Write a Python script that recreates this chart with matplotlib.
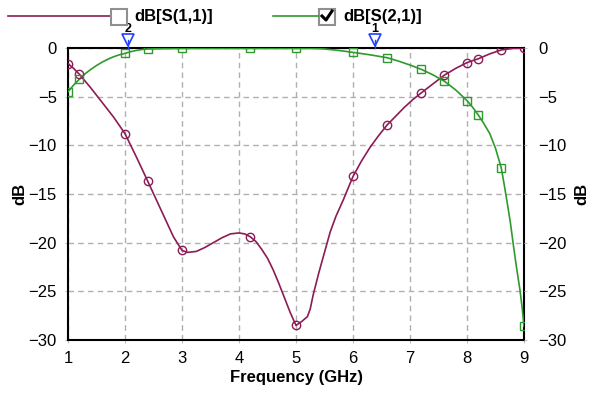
import matplotlib
matplotlib.use("Agg")
import matplotlib.pyplot as plt
from matplotlib.lines import Line2D
from matplotlib.patches import Rectangle

plt.rcParams['font.family'] = ['Liberation Sans', 'DejaVu Sans']

# marker positions (GHz)
freq_markers = [1.0, 1.2, 2.0, 2.4, 3.0, 4.2, 5.0, 6.0, 6.6, 7.2, 7.6, 8.0, 8.2, 8.6, 9.0]
s11_markers = [-1.6, -2.7, -8.8, -13.7, -20.8, -19.4, -28.5, -13.2, -7.9, -4.6, -2.8, -1.5, -1.1, -0.2, 0.0]
s21_markers = [-4.5, -3.2, -0.55, -0.1, -0.05, -0.05, -0.05, -0.45, -1.0, -2.2, -3.4, -5.4, -6.9, -12.3, -28.6]

# traced curves
s11_curve_x = [1.0, 1.1, 1.2, 1.4, 1.6, 1.8, 2.0, 2.2, 2.4, 2.55, 2.7, 2.85, 3.0, 3.1, 3.25, 3.4,
               3.55, 3.7, 3.85, 4.0, 4.1, 4.2, 4.3, 4.4, 4.5, 4.6, 4.7, 4.8, 4.9, 5.0, 5.1, 5.2,
               5.25, 5.3, 5.4, 5.5, 5.6, 5.7, 5.83, 6.0, 6.15, 6.3, 6.45, 6.6, 6.75, 6.9, 7.05,
               7.2, 7.4, 7.6, 7.8, 8.0, 8.2, 8.4, 8.6, 8.8, 9.0]
s11_curve_y = [-1.6, -2.1, -2.7, -4.1, -5.6, -7.1, -8.8, -11.2, -13.7, -15.6, -17.5, -19.4, -20.8,
               -21.0, -20.9, -20.5, -20.0, -19.5, -19.1, -19.0, -19.1, -19.4, -19.9, -20.7, -21.6,
               -22.8, -24.2, -25.7, -27.2, -28.5, -28.1, -27.6, -26.8, -25.4, -23.1, -21.0, -18.9,
               -17.3, -15.6, -13.2, -11.6, -10.2, -9.0, -7.9, -7.0, -6.1, -5.3, -4.6, -3.7, -2.8,
               -2.1, -1.5, -1.1, -0.6, -0.2, -0.05, 0.0]
s21_curve_x = [1.0, 1.1, 1.2, 1.3, 1.4, 1.5, 1.6, 1.7, 1.8, 1.9, 2.0, 2.1, 2.2, 2.3, 2.4, 3.0, 4.2,
               5.0, 5.3, 5.5, 5.75, 6.0, 6.3, 6.6, 6.8, 7.0, 7.2, 7.4, 7.6, 7.8, 8.0, 8.1, 8.2,
               8.3, 8.4, 8.5, 8.6, 8.64, 8.7, 8.76, 8.81, 8.87, 8.93, 8.97, 9.0]
s21_curve_y = [-4.5, -3.8, -3.2, -2.65, -2.2, -1.8, -1.45, -1.15, -0.9, -0.7, -0.55, -0.38, -0.25,
               -0.15, -0.1, -0.05, -0.05, -0.05, -0.05, -0.1, -0.25, -0.45, -0.7, -1.0, -1.35,
               -1.75, -2.2, -2.75, -3.4, -4.3, -5.4, -6.1, -6.9, -7.8, -8.8, -10.3, -12.3, -13.6,
               -15.7, -17.9, -20.1, -22.6, -24.9, -26.8, -28.6]

yticks = [0, -5, -10, -15, -20, -25, -30]
xticks = [1, 2, 3, 4, 5, 6, 7, 8, 9]
ref_markers = [(2.05, '2'), (6.39, '1')]

C11 = '#8b1c55'
C21 = '#2e9a2e'

fig = plt.figure(figsize=(5.97, 3.98), dpi=100)
ax = fig.add_axes([68/597, 58/398, 456/597, 292/398])

ax.plot(s11_curve_x, s11_curve_y, color=C11, lw=1.2, zorder=3)
ax.plot(freq_markers, s11_markers, ls='none', marker='o', ms=6, mfc='none', mec=C11, mew=1.0, zorder=4)
ax.plot(s21_curve_x, s21_curve_y, color=C21, lw=1.2, zorder=3)
ax.plot(freq_markers, s21_markers, ls='none', marker='s', ms=5.5, mfc='none', mec=C21, mew=1.0, zorder=4)

ax.set_xlim(1, 9)
ax.set_ylim(-30, 0)
ax.set_xticks(xticks)
ax.set_yticks(yticks)
ax.grid(True, color='#b0b0b0', ls=(0, (4, 3)), lw=1.0)
for s in ax.spines.values():
    s.set_color('black')
    s.set_linewidth(1.5)
ax.tick_params(axis='both', length=2, color='#c0c0c0', labelsize=12, pad=6)
ax.set_xlabel('Frequency (GHz)', fontsize=12, fontweight='bold', labelpad=3)
ax.set_ylabel('dB', fontsize=12, fontweight='bold', labelpad=1)

ax2 = ax.twinx()
ax2.set_ylim(-30, 0)
ax2.set_yticks(yticks)
ax2.tick_params(axis='y', length=2, color='#c0c0c0', labelsize=12, pad=8)
ax2.set_ylabel('dB', fontsize=12, fontweight='bold', labelpad=6)
for s in ax2.spines.values():
    s.set_visible(False)

# reference markers above plot
for x, lab in ref_markers:
    ax.plot([x], [0.8], marker='v', ms=9, mfc='white', mec='#2040ff', mew=1.2, clip_on=False, zorder=6)
    ax.plot([x, x], [0.8, 0], color='#2040ff', lw=1.0, clip_on=False, zorder=6)
    ax.text(x, 1.35, lab, ha='center', va='bottom', fontsize=9, fontweight='bold', clip_on=False)

# legend
def fx(p):
    return p / 597
def fy(p):
    return 1 - p / 398

fig.add_artist(Line2D([fx(8), fx(110)], [fy(16), fy(16)], color=C11, lw=1.2))
fig.add_artist(Rectangle((fx(111), fy(25)), 16/597, 16/398, fc='white', ec='#909090', lw=1.5, zorder=5))
fig.text(fx(134), fy(16), 'dB[S(1,1)]', fontsize=12, fontweight='bold', va='center', ha='left')
fig.add_artist(Line2D([fx(273), fx(318)], [fy(16), fy(16)], color=C21, lw=1.2))
fig.add_artist(Rectangle((fx(319), fy(25)), 16/597, 16/398, fc='white', ec='#909090', lw=1.5))
fig.add_artist(Line2D([fx(322), fx(326), fx(332)], [fy(16), fy(20), fy(11)], color='black', lw=2.2))
fig.text(fx(343), fy(16), 'dB[S(2,1)]', fontsize=12, fontweight='bold', va='center', ha='left')

fig.savefig('out.png', dpi=100)
